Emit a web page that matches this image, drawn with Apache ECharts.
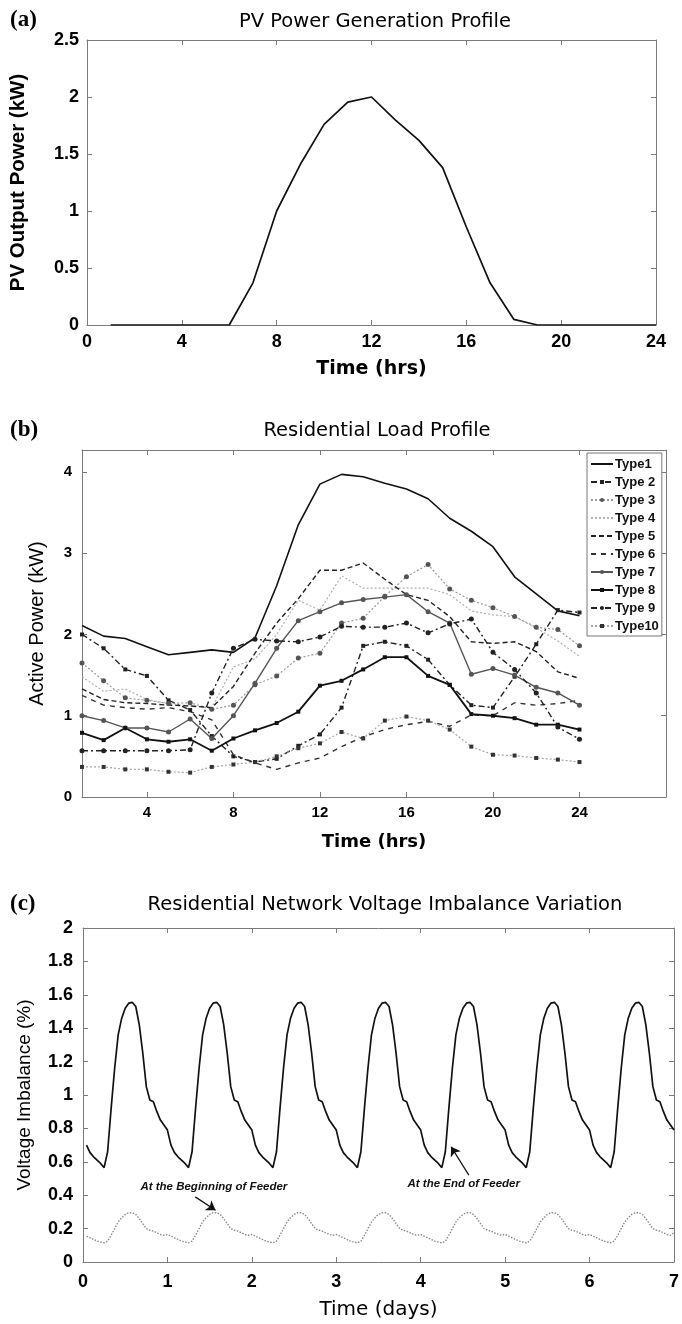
<!DOCTYPE html>
<html><head><meta charset="utf-8">
<script src="https://cdn.jsdelivr.net/npm/echarts@6/dist/echarts.min.js"></script>
<style>html,body{margin:0;padding:0;background:#fff}#c{width:682px;height:1324px}</style>
</head><body><div id="c"></div>
<script>
// ---------- (a) PV profile ----------
const pvHours = [1,2,3,4,5,6,7,8,9,10,11,12,13,14,15,16,17,18,19,20,21,22,23,24];
const pvPower = [0,0,0,0,0,0,0.37,1.0,1.41,1.76,1.955,2.0,1.80,1.62,1.38,0.86,0.37,0.05,0,0,0,0,0,0];

// ---------- (b) residential load profiles ----------
const loadHours = [1,2,3,4,5,6,7,8,9,10,11,12,13,14,15,16,17,18,19,20,21,22,23,24];
const typeNames = ['Type1','Type 2','Type 3','Type 4','Type 5','Type 6','Type 7','Type 8','Type 9','Type10'];
const type1  = [2.11,1.98,1.95,1.85,1.75,1.78,1.81,1.78,1.96,2.60,3.35,3.85,3.97,3.94,3.86,3.79,3.67,3.43,3.27,3.08,2.71,2.50,2.29,2.23];
const type2  = [2.00,1.83,1.57,1.49,1.19,1.07,0.75,0.50,0.43,0.47,0.63,0.77,1.10,1.86,1.91,1.86,1.69,1.38,1.13,1.10,1.48,1.88,2.30,2.27];
const type3  = [1.65,1.43,1.22,1.19,1.15,1.16,1.08,1.13,1.38,1.49,1.71,1.77,2.14,2.20,2.47,2.71,2.86,2.56,2.42,2.33,2.22,2.09,2.06,1.86];
const type4  = [1.48,1.30,1.33,1.20,1.15,1.12,1.10,1.60,1.70,2.00,2.42,2.30,2.72,2.57,2.57,2.57,2.57,2.49,2.29,2.24,2.22,2.08,1.92,1.73];
const type5  = [1.33,1.20,1.16,1.15,1.13,1.12,1.10,1.36,1.77,2.14,2.44,2.79,2.79,2.88,2.68,2.49,2.42,2.22,1.91,1.89,1.91,1.79,1.54,1.46];
const type6  = [1.25,1.13,1.10,1.08,1.10,1.05,0.95,0.52,0.42,0.34,0.42,0.48,0.62,0.74,0.83,0.89,0.93,0.87,1.01,1.00,1.16,1.13,1.15,1.19];
const type7  = [1.00,0.94,0.85,0.85,0.80,0.96,0.72,1.00,1.40,1.83,2.17,2.28,2.39,2.43,2.46,2.49,2.28,2.14,1.51,1.58,1.50,1.35,1.28,1.13];
const type8  = [0.79,0.70,0.85,0.71,0.68,0.71,0.57,0.72,0.82,0.91,1.05,1.37,1.43,1.57,1.72,1.72,1.49,1.38,1.02,1.00,0.97,0.89,0.89,0.83];
const type9  = [0.57,0.57,0.57,0.57,0.57,0.58,1.28,1.83,1.94,1.92,1.91,1.97,2.10,2.09,2.09,2.14,2.02,2.13,2.19,1.78,1.57,1.28,0.86,0.71];
const type10 = [0.37,0.37,0.34,0.34,0.31,0.30,0.37,0.40,0.43,0.50,0.60,0.66,0.80,0.72,0.94,0.99,0.94,0.83,0.62,0.52,0.51,0.48,0.46,0.43];
const loadXTicks = [4,8,12,16,20,24];
const loadYTicks = [0,1,2,3,4];

// ---------- (c) voltage imbalance, hourly samples over 7 days ----------
const endFeeder = [
 0.70,0.655,0.63,0.61,0.59,0.565,0.66,0.92,1.16,1.36,1.46,1.52,1.55,1.555,1.53,1.42,1.25,1.05,0.97,0.96,0.90,0.85,0.82,0.79,
 0.70,0.655,0.63,0.61,0.59,0.565,0.66,0.92,1.16,1.36,1.46,1.52,1.55,1.555,1.53,1.42,1.25,1.05,0.97,0.96,0.90,0.85,0.82,0.79,
 0.70,0.655,0.63,0.61,0.59,0.565,0.66,0.92,1.16,1.36,1.46,1.52,1.55,1.555,1.53,1.42,1.25,1.05,0.97,0.96,0.90,0.85,0.82,0.79,
 0.70,0.655,0.63,0.61,0.59,0.565,0.66,0.92,1.16,1.36,1.46,1.52,1.55,1.555,1.53,1.42,1.25,1.05,0.97,0.96,0.90,0.85,0.82,0.79,
 0.70,0.655,0.63,0.61,0.59,0.565,0.66,0.92,1.16,1.36,1.46,1.52,1.55,1.555,1.53,1.42,1.25,1.05,0.97,0.96,0.90,0.85,0.82,0.79,
 0.70,0.655,0.63,0.61,0.59,0.565,0.66,0.92,1.16,1.36,1.46,1.52,1.55,1.555,1.53,1.42,1.25,1.05,0.97,0.96,0.90,0.85,0.82,0.79,
 0.70,0.655,0.63,0.61,0.59,0.565,0.66,0.92,1.16,1.36,1.46,1.52,1.55,1.555,1.53,1.42,1.25,1.05,0.97,0.96,0.90,0.85,0.82,0.79
];
const beginFeeder = [
 0.155,0.145,0.135,0.125,0.12,0.115,0.125,0.16,0.20,0.24,0.265,0.285,0.295,0.295,0.285,0.26,0.23,0.20,0.19,0.185,0.175,0.165,0.16,0.165,
 0.155,0.145,0.135,0.125,0.12,0.115,0.125,0.16,0.20,0.24,0.265,0.285,0.295,0.295,0.285,0.26,0.23,0.20,0.19,0.185,0.175,0.165,0.16,0.165,
 0.155,0.145,0.135,0.125,0.12,0.115,0.125,0.16,0.20,0.24,0.265,0.285,0.295,0.295,0.285,0.26,0.23,0.20,0.19,0.185,0.175,0.165,0.16,0.165,
 0.155,0.145,0.135,0.125,0.12,0.115,0.125,0.16,0.20,0.24,0.265,0.285,0.295,0.295,0.285,0.26,0.23,0.20,0.19,0.185,0.175,0.165,0.16,0.165,
 0.155,0.145,0.135,0.125,0.12,0.115,0.125,0.16,0.20,0.24,0.265,0.285,0.295,0.295,0.285,0.26,0.23,0.20,0.19,0.185,0.175,0.165,0.16,0.165,
 0.155,0.145,0.135,0.125,0.12,0.115,0.125,0.16,0.20,0.24,0.265,0.285,0.295,0.295,0.285,0.26,0.23,0.20,0.19,0.185,0.175,0.165,0.16,0.165,
 0.155,0.145,0.135,0.125,0.12,0.115,0.125,0.16,0.20,0.24,0.265,0.285,0.295,0.295,0.285,0.26,0.23,0.20,0.19,0.185,0.175,0.165,0.16,0.175
];
const hoursPerDay = 24;
const annotBegin = {text:'At the Beginning of Feeder', at:[1.55,0.45], from:[1.33,0.39], to:[1.57,0.31]};
const annotEnd = {text:'At the End of Feeder', at:[4.51,0.47], from:[4.57,0.52], to:[4.36,0.69]};

// ---------- build option ----------
const ARIAL = 'Liberation Sans, Arial, Helvetica, sans-serif';
const WIDE = 'DejaVu Sans, Verdana, sans-serif';
const AXC = '#7a7a7a';
function tickCfg(cv){ const t = {show:true, inside:true, length:5, lineStyle:{color:AXC}}; if (cv) t.customValues = cv; return t; }
function boxAxis(grid, pos, min, max, interval, cv) {
  return {
    type:'value', gridIndex:grid, position:pos, min:min, max:max, interval:interval,
    axisLine:{show:true, onZero:false, lineStyle:{color:AXC, width:1}},
    axisTick:tickCfg(cv),
    axisLabel:{show:false}, splitLine:{show:false}
  };
}
function mainAxis(grid, pos, min, max, interval, lab, name, nm, cv) {
  const lbl = Object.assign({color:'#000', fontFamily:ARIAL, fontWeight:'bold'}, lab);
  if (cv) lbl.customValues = cv;
  return {
    type:'value', gridIndex:grid, position:pos, min:min, max:max, interval:interval,
    axisLine:{show:true, onZero:false, lineStyle:{color:AXC, width:1}},
    axisTick:tickCfg(cv),
    axisLabel:lbl,
    splitLine:{show:false},
    name:name, nameLocation:'middle',
    nameTextStyle:Object.assign({color:'#000'}, nm.style),
    nameGap:nm.gap
  };
}
function pairs(xs, ys){ return xs.map((x,i)=>[x, ys[i]]); }
function hourly(ys){ return ys.map((v,i)=>[(i+1)/hoursPerDay, v]); }

const loadStyles = [
  {data:type1,  line:{color:'#111', width:1.6, type:'solid'}, sym:'none'},
  {data:type2,  line:{color:'#222', width:1.4, type:[6,3,2,3]}, sym:'rect', size:4, sc:'#222'},
  {data:type3,  line:{color:'#9a9a9a', width:1.2, type:[2,2]}, sym:'circle', size:5, sc:'#555'},
  {data:type4,  line:{color:'#b0b0b0', width:1.2, type:[2,2]}, sym:'none'},
  {data:type5,  line:{color:'#222', width:1.4, type:[5,3]}, sym:'none'},
  {data:type6,  line:{color:'#333', width:1.4, type:[5,5]}, sym:'none'},
  {data:type7,  line:{color:'#555', width:1.4, type:'solid'}, sym:'circle', size:5, sc:'#555'},
  {data:type8,  line:{color:'#111', width:1.8, type:'solid'}, sym:'rect', size:4, sc:'#111'},
  {data:type9,  line:{color:'#222', width:1.4, type:[6,3,2,3]}, sym:'circle', size:5, sc:'#222'},
  {data:type10, line:{color:'#a5a5a5', width:1.2, type:[2,2]}, sym:'rect', size:4, sc:'#333'}
];

const series = [];
series.push({type:'line', xAxisIndex:0, yAxisIndex:0, data:pairs(pvHours, pvPower), symbol:'none',
  lineStyle:{color:'#111', width:1.7}, itemStyle:{color:'#111'}});
loadStyles.forEach((s, i) => {
  series.push({type:'line', name:typeNames[i], xAxisIndex:2, yAxisIndex:2, data:pairs(loadHours, s.data),
    symbol:s.sym, symbolSize:s.size || 4, showSymbol:s.sym !== 'none',
    lineStyle:s.line, itemStyle:{color:s.sc || s.line.color}});
});
function annot(a){
  return {
    markPoint:{symbol:'circle', symbolSize:1, silent:true, itemStyle:{color:'rgba(0,0,0,0)'},
      data:[{coord:a.at, label:{show:true, position:'inside', formatter:a.text, color:'#111',
        fontFamily:ARIAL, fontStyle:'italic', fontWeight:'bold', fontSize:11.5}}]},
    markLine:{silent:true, symbol:['none','arrow'], symbolSize:9, label:{show:false},
      lineStyle:{color:'#111', width:1.3, type:'solid'}, itemStyle:{color:'#111'},
      data:[[{coord:a.from},{coord:a.to}]]}
  };
}
series.push(Object.assign({type:'line', xAxisIndex:4, yAxisIndex:4, data:hourly(endFeeder), symbol:'none',
  lineStyle:{color:'#111', width:1.7}}, annot(annotEnd)));
series.push(Object.assign({type:'line', xAxisIndex:4, yAxisIndex:4, data:hourly(beginFeeder), symbol:'none',
  lineStyle:{color:'#8a8a8a', width:1.4, type:[1.5,1.5]}}, annot(annotBegin)));

const titleStyle = {color:'#000', fontFamily:WIDE, fontWeight:'normal', fontSize:19.5};
const panelStyle = {color:'#000', fontFamily:'Liberation Serif, Times New Roman, serif', fontWeight:'bold', fontSize:23};

const legendData = typeNames.map((n, i) => loadStyles[i].sym === 'none'
  ? {name:n, itemStyle:{opacity:0}} : {name:n});

const option = {
  animation:false,
  backgroundColor:'#fff',
  title:[
    {text:'PV Power Generation Profile', left:370, textAlign:'center', top:7, textStyle:titleStyle},
    {text:'Residential Load Profile', left:372, textAlign:'center', top:416, textStyle:titleStyle},
    {text:'Residential Network Voltage Imbalance Variation', left:380, textAlign:'center', top:890, textStyle:titleStyle},
    {text:'(a)', left:5, top:4, textStyle:panelStyle},
    {text:'(b)', left:5, top:414, textStyle:panelStyle},
    {text:'(c)', left:5, top:888, textStyle:panelStyle}
  ],
  legend:{
    orient:'vertical', left:587, top:453, data:legendData,
    backgroundColor:'#fff', borderColor:'#777', borderWidth:1, padding:[4,3,3,3],
    itemWidth:22, itemHeight:5, itemGap:4,
    textStyle:{color:'#111', fontFamily:ARIAL, fontWeight:'bold', fontSize:13, lineHeight:14, padding:[0,0,0,-3]}
  },
  grid:[
    {left:83, right:26, top:40, height:285},
    {left:82, right:16, top:450, height:347},
    {left:83, right:6, top:928, height:334}
  ],
  xAxis:[
    mainAxis(0,'bottom',0,24,4,{fontSize:18, margin:8},'Time (hrs)',{gap:35, style:{fontFamily:WIDE, fontSize:19, fontWeight:'bold'}}),
    boxAxis(0,'top',0,24,4),
    mainAxis(1,'bottom',1,28,null,{fontSize:15, margin:8},'Time (hrs)',{gap:36, style:{fontFamily:WIDE, fontSize:18, fontWeight:'bold'}}, loadXTicks),
    boxAxis(1,'top',1,28,null, loadXTicks),
    mainAxis(2,'bottom',0,7,1,{fontSize:18, margin:11},'Time (days)',{gap:38, style:{fontFamily:WIDE, fontSize:20, fontWeight:'normal'}}),
    boxAxis(2,'top',0,7,1)
  ],
  yAxis:[
    mainAxis(0,'left',0,2.5,0.5,{fontSize:18, margin:8},'PV Output Power (kW)',{gap:58, style:{fontFamily:ARIAL, fontSize:20.5, fontWeight:'bold'}}),
    boxAxis(0,'right',0,2.5,0.5),
    mainAxis(1,'left',0,4.27,null,{fontSize:15, margin:10},'Active Power (kW)',{gap:35, style:{fontFamily:ARIAL, fontSize:20, fontWeight:'normal'}}, loadYTicks),
    boxAxis(1,'right',0,4.27,null, loadYTicks),
    mainAxis(2,'left',0,2,0.2,{fontSize:18, margin:10},'Voltage Imbalance (%)',{gap:49, style:{fontFamily:ARIAL, fontSize:19, fontWeight:'normal'}}),
    boxAxis(2,'right',0,2,0.2)
  ],
  series:series
};
const chart = echarts.init(document.getElementById('c'), null, {renderer:'canvas'});
chart.setOption(option);
</script></body></html>
